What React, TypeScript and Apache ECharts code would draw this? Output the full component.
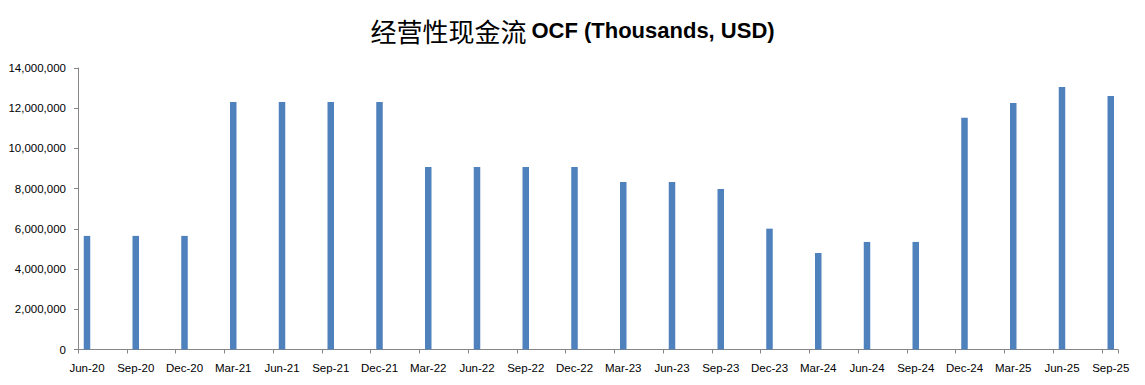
import React, { useEffect, useRef } from "react";
import * as echarts from "echarts";

const categories = [
  "Jun-20", "Sep-20", "Dec-20", "Mar-21", "Jun-21", "Sep-21", "Dec-21",
  "Mar-22", "Jun-22", "Sep-22", "Dec-22", "Mar-23", "Jun-23", "Sep-23",
  "Dec-23", "Mar-24", "Jun-24", "Sep-24", "Dec-24", "Mar-25", "Jun-25", "Sep-25",
];

const ocfValues = [
  5650000, 5650000, 5650000, 12310000, 12310000, 12310000, 12310000,
  9080000, 9080000, 9080000, 9080000, 8330000, 8330000, 7980000,
  6010000, 4800000, 5350000, 5350000, 11530000, 12260000, 13060000, 12610000,
];

const yMin = 0;
const yMax = 14000000;
const yStep = 2000000;

const titleCn = "经营性现金流";
const titleEn = "OCF (Thousands, USD)";

export default function App() {
  const ref = useRef<HTMLDivElement>(null);

  useEffect(() => {
    document.body.style.margin = "0";
    if (!ref.current) return;
    const chart = echarts.init(ref.current, undefined, { renderer: "svg" });

    const catW = 48.75;
    const plotTop = 68;
    const plotH = 281.5;
    const axisLeft = 78;
    const axisW = 1040;
    const barGridLeft = 87 - catW / 2;
    const barGridW = catW * categories.length;

    const axisColor = "#868686";
    const labelFont = "'Liberation Sans', Arial, sans-serif";

    chart.setOption({
      animation: false,
      backgroundColor: "#ffffff",
      title: {
        left: "center",
        top: 12,
        text: `{a|${titleCn}} {b|${titleEn}}`,
        textStyle: {
          rich: {
            a: {
              fontFamily: "'Noto Sans CJK SC', sans-serif",
              fontSize: 26,
              fontWeight: "normal",
              color: "#000",
            },
            b: {
              fontFamily: labelFont,
              fontSize: 22,
              fontWeight: "bold",
              color: "#000",
            },
          },
        },
      },
      grid: [
        { left: barGridLeft, top: plotTop, width: barGridW, height: plotH, containLabel: false },
        { left: axisLeft, top: plotTop, width: axisW, height: plotH, containLabel: false },
      ],
      xAxis: [
        {
          type: "category",
          gridIndex: 0,
          data: categories,
          boundaryGap: true,
          axisLine: { show: false },
          axisTick: { show: false },
          axisLabel: {
            interval: 0,
            margin: 12,
            fontSize: 11.5,
            fontFamily: labelFont,
            color: "#000",
          },
          splitLine: { show: false },
        },
        {
          type: "value",
          gridIndex: 1,
          min: 0,
          max: axisW / catW,
          interval: 1,
          axisLine: { show: true, lineStyle: { color: axisColor, width: 1 } },
          axisTick: { show: true, inside: false, length: 4, lineStyle: { color: axisColor } },
          axisLabel: { show: false },
          splitLine: { show: false },
        },
      ],
      yAxis: [
        {
          type: "value",
          gridIndex: 0,
          min: yMin,
          max: yMax,
          interval: yStep,
          show: false,
          splitLine: { show: false },
        },
        {
          type: "value",
          gridIndex: 1,
          min: yMin,
          max: yMax,
          interval: yStep,
          axisLine: { show: true, lineStyle: { color: axisColor, width: 1 } },
          axisTick: { show: true, inside: false, length: 4, lineStyle: { color: axisColor } },
          axisLabel: {
            margin: 12,
            fontSize: 11.5,
            fontFamily: labelFont,
            color: "#000",
            formatter: (v: number) => v.toLocaleString("en-US"),
          },
          splitLine: { show: false },
        },
      ],
      series: [
        {
          type: "bar",
          name: "OCF",
          xAxisIndex: 0,
          yAxisIndex: 0,
          data: ocfValues,
          barWidth: 6.5,
          itemStyle: { color: "#4F81BD" },
        },
      ],
    });

    return () => chart.dispose();
  }, []);

  return <div ref={ref} style={{ width: 1145, height: 385 }} />;
}
